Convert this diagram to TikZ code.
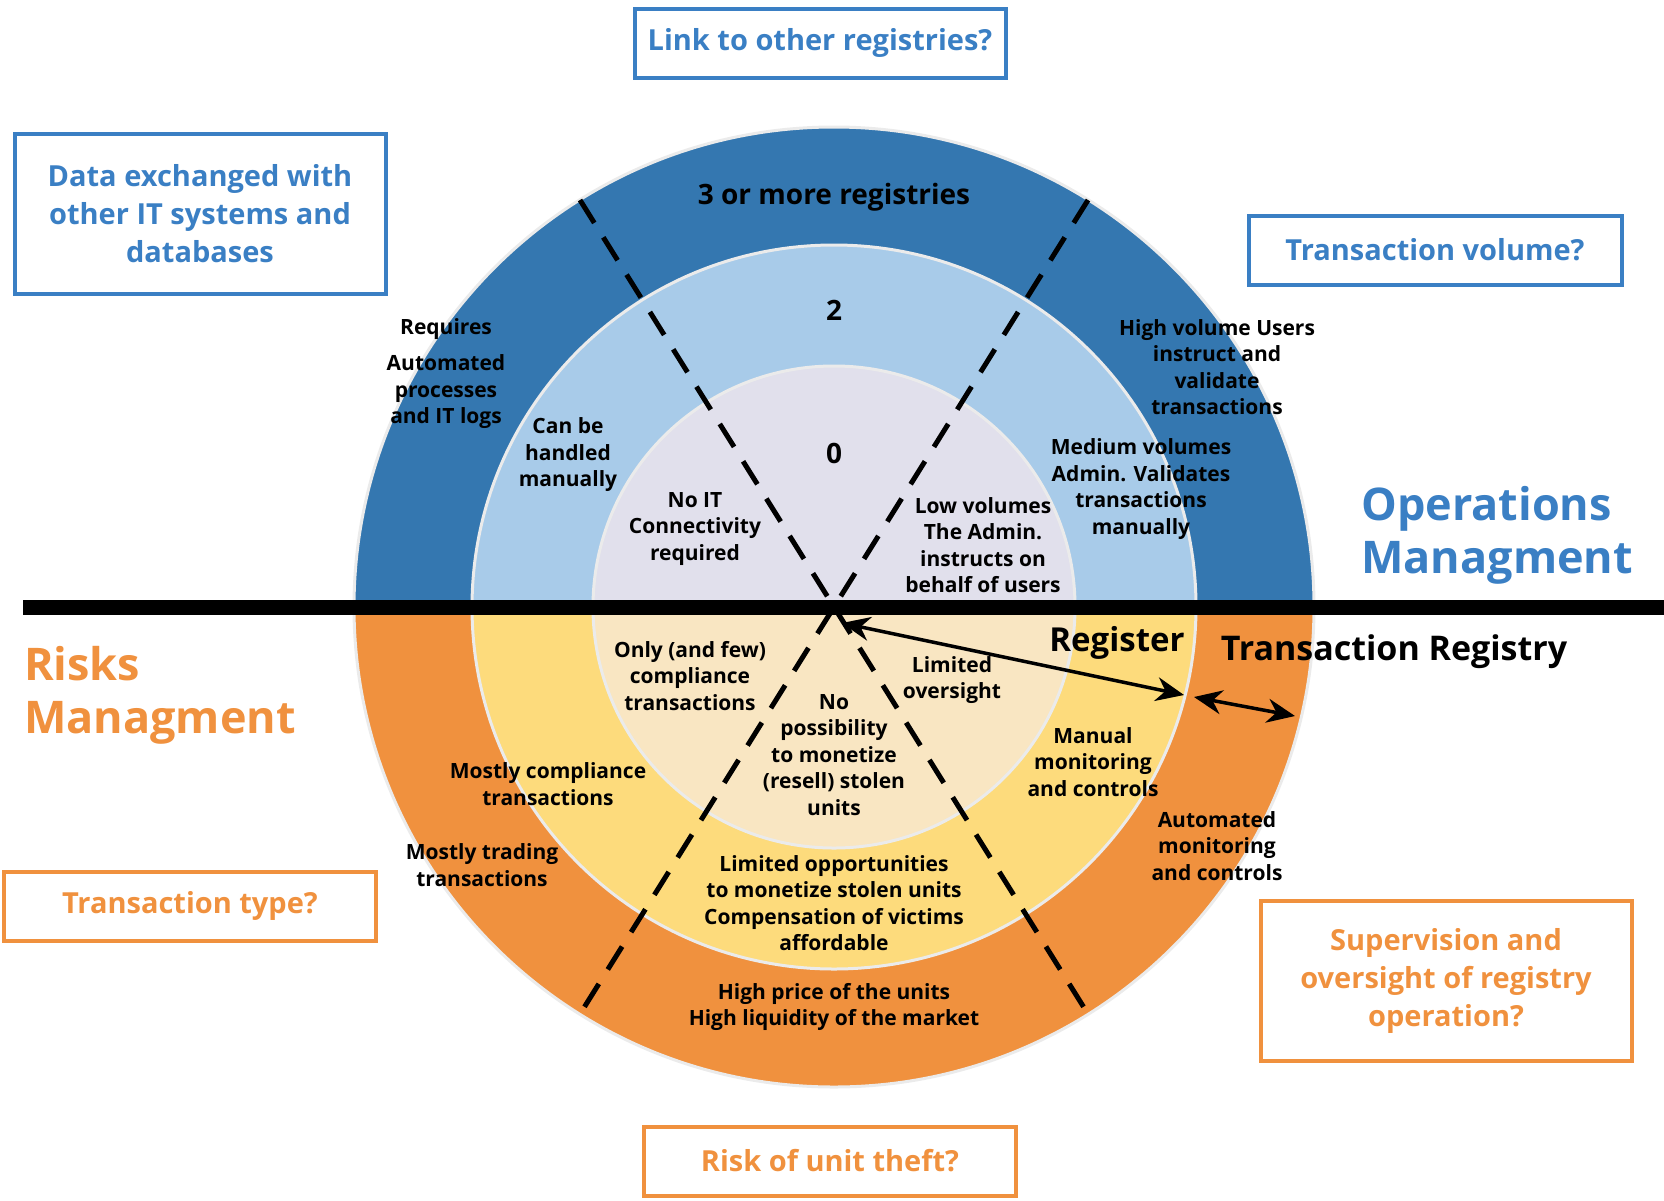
\documentclass[tikz,border=0pt]{standalone}
\usepackage{fontspec}
\setmainfont{Open Sans}
\usetikzlibrary{arrows.meta,positioning}
\definecolor{opsdark}{RGB}{52,119,176}
\definecolor{opsmid}{RGB}{168,203,233}
\definecolor{opsin}{RGB}{225,224,236}
\definecolor{riskdark}{RGB}{240,145,62}
\definecolor{riskmid}{RGB}{253,219,124}
\definecolor{riskin}{RGB}{249,230,194}
\definecolor{opsblue}{RGB}{58,127,196}
\definecolor{riskorange}{RGB}{240,145,62}

\tikzset{
  txt/.style={align=center, inner sep=0pt, font=\bfseries\fontsize{21}{26.5}\selectfont},
  level/.style={inner sep=0pt, font=\bfseries\fontsize{28}{34}\selectfont},
  qbox/.style={draw, line width=4pt, align=center, inner sep=0pt,
    font=\bfseries\fontsize{29}{38}\selectfont},
  title/.style={align=left, inner sep=0pt, font=\bfseries\fontsize{45}{53}\selectfont},
  divider/.style={dash pattern=on 27pt off 17pt, line width=5pt},
  arr/.style={{Stealth[length=28pt,width=24pt]}-{Stealth[length=28pt,width=24pt]}, line width=3.5pt}
}

\begin{document}
\begin{tikzpicture}[x=1pt, y=-1pt]
    \useasboundingbox (0,0) rectangle (1664,1200);
    \coordinate (hub) at (834,607);

    % Rings
    \begin{scope}
        \clip (0,0) rectangle (1664,607);
        \foreach \r/\c in {480/opsdark, 362/opsmid, 241/opsin}
            \filldraw[fill=\c, draw=black!8, line width=3pt] (hub) circle (\r);
    \end{scope}
    \begin{scope}
        \clip (0,607) rectangle (1664,1200);
        \foreach \r/\c in {480/riskdark, 362/riskmid, 241/riskin}
            \filldraw[fill=\c, draw=black!8, line width=3pt] (hub) circle (\r);
    \end{scope}

    % Sectors
    \draw[divider] (580,200) -- (1088,1014);
    \draw[divider] (1088,200) -- (580,1014);

    % Split line
    \draw[line width=15pt] (23,607) -- (1664,607);

    % Operations half
    \node[level] (ring3) at (834,197) {3 or more registries};
    \node[level] (ring2) at (834,310) {2};
    \node[level] (ring0) at (834,453) {0};
    \node[txt] (req) at (446,329) {Requires};
    \node[txt] (auto) at (446,392) {Automated\\processes\\and IT logs};
    \node[txt] (hand) at (568,455) {Can be\\handled\\manually};
    \node[txt] (noit) at (695,529) {No IT\\Connectivity\\required};
    \node[txt] (low) at (983,545) {Low volumes\\The Admin.\\instructs on\\behalf of users};
    \node[txt] (medium) at (1141,489) {Medium volumes\\Admin. Validates\\transactions\\manually};
    \node[txt] (high) at (1217,367) {High volume Users\\instruct and\\validate\\transactions};

    % Risks half
    \node[txt] (only) at (690,676) {Only (and few)\\compliance\\transactions};
    \node[txt] (nosell) at (834,755) {No\\possibility\\to monetize\\(resell) stolen\\units};
    \node[txt] (limover) at (952,680) {Limited\\oversight};
    \node[txt] (manual) at (1093,762) {Manual\\monitoring\\and controls};
    \node[txt] (automon) at (1217,846) {Automated\\monitoring\\and controls};
    \node[txt] (mostcomp) at (548,784) {Mostly compliance\\transactions};
    \node[txt] (mosttrad) at (482,865) {Mostly trading\\transactions};
    \node[txt] (limopp) at (834,903) {Limited opportunities\\to monetize stolen units\\Compensation of victims\\affordable};
    \node[txt] (price) at (834,1007) {High price of the units\\High liquidity of the market};

    % Registry labels
    \node[inner sep=0pt, font=\bfseries\fontsize{33}{40}\selectfont] (reg) at (1117,643) {Register};
    \node[inner sep=0pt, font=\bfseries\fontsize{34}{40}\selectfont] (treg) at (1394,652) {Transaction Registry};
    \coordinate (regin) at (842,623);
    \coordinate (regout) at (1184,695);
    \coordinate (trin) at (1194,697);
    \coordinate (trout) at (1295,716);
    \draw[arr] (regin) -- (regout);
    \draw[arr] (trin) -- (trout);

    % Titles
    \node[title, text=opsblue, anchor=west] (ops) at (1361,535) {Operations\\Managment};
    \node[title, text=riskorange, anchor=west] (risk) at (24,695) {Risks\\Managment};

    % Questions
    \node[qbox, draw=opsblue, text=opsblue, minimum width=371pt, minimum height=69pt] (link) at (820,43) {Link to other registries?};
    \node[qbox, draw=opsblue, text=opsblue, minimum width=371pt, minimum height=160pt] (data) at (200,214) {Data exchanged with\\other IT systems and\\databases};
    \node[qbox, draw=opsblue, text=opsblue, minimum width=373pt, minimum height=69pt] (vol) at (1435,250) {Transaction volume?};
    \node[qbox, draw=riskorange, text=riskorange, minimum width=372pt, minimum height=69pt] (type) at (190,906) {Transaction type?};
    \node[qbox, draw=riskorange, text=riskorange, minimum width=371pt, minimum height=160pt] (superv) at (1446,981) {Supervision and\\oversight of registry\\operation?};
    \node[qbox, draw=riskorange, text=riskorange, minimum width=372pt, minimum height=69pt] (theft) at (830,1161) {Risk of unit theft?};
\end{tikzpicture}
\end{document}
